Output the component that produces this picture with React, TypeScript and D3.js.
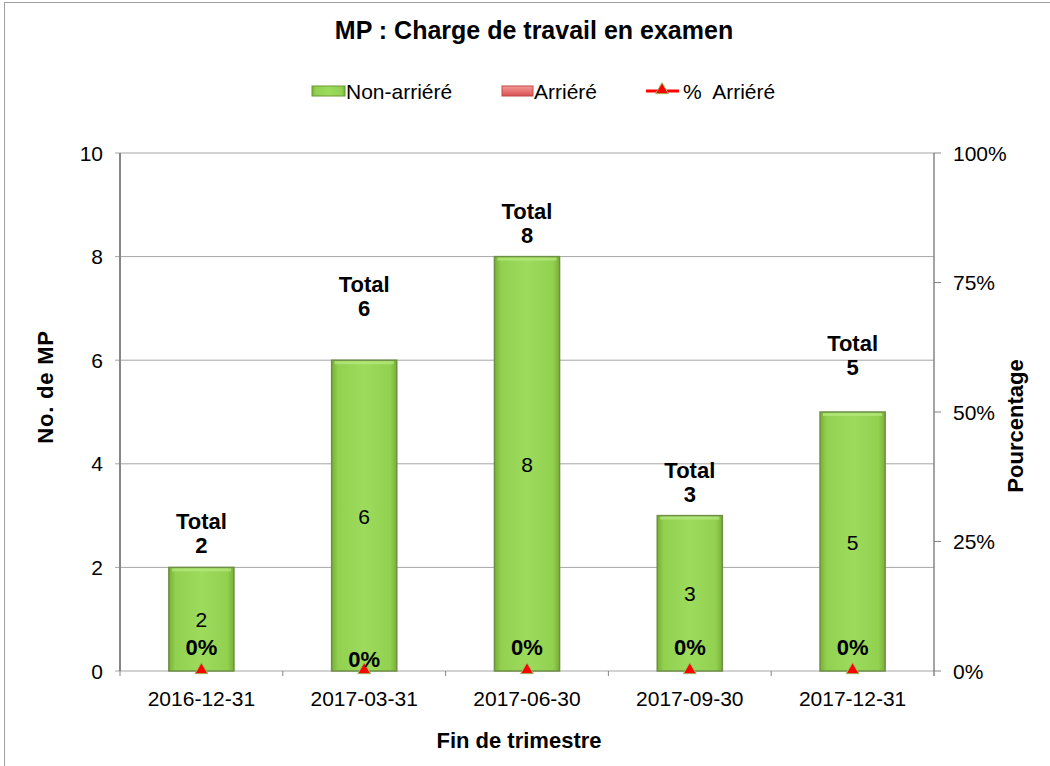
import React from "react";
import * as d3 from "d3";

const categories = ["2016-12-31", "2017-03-31", "2017-06-30", "2017-09-30", "2017-12-31"];
const nonArriere = [2, 6, 8, 3, 5];
const arriere = [0, 0, 0, 0, 0];
const pctArriere = [0, 0, 0, 0, 0];
const leftTicks = [0, 2, 4, 6, 8, 10];
const rightTicks = [0, 0.25, 0.5, 0.75, 1];

const W = 1050, H = 766;
const M = { left: 120, right: 934, top: 153, bottom: 671 };
const FONT = "'Liberation Sans', Arial, sans-serif";
// extra lift (px) of the "Total" labels above each bar, as placed in the original
const totalLift = [0, 30, 0, 0, 23];
// "0%" label offset above the marker
const pctLift = [16, 4, 16, 16, 16];

export default function App() {
  const x = d3.scaleBand<string>().domain(categories).range([M.left, M.right]).paddingInner(0.6).paddingOuter(0.3);
  const xb = d3.scaleBand<string>().domain(categories).range([M.left, M.right]);
  const y = d3.scaleLinear().domain([0, 10]).range([M.bottom, M.top]);
  const y2 = d3.scaleLinear().domain([0, 1]).range([M.bottom, M.top]);
  const bw = x.bandwidth();
  const pctFmt = d3.format(".0%");
  const tri = d3.symbol().type(d3.symbolTriangle).size(70);

  return (
    <svg width={W} height={H} style={{ display: "block", position: "absolute", left: 0, top: 0, fontFamily: FONT }}>
      <defs>
        <linearGradient id="gGreen" x1="0" x2="1" y1="0" y2="0">
          <stop offset="0" stopColor="#78b035" />
          <stop offset="0.1" stopColor="#92d050" />
          <stop offset="0.5" stopColor="#9cdb5c" />
          <stop offset="0.9" stopColor="#92d050" />
          <stop offset="1" stopColor="#78b035" />
        </linearGradient>
        <linearGradient id="gRed" x1="0" x2="0" y1="0" y2="1">
          <stop offset="0" stopColor="#f49a9a" />
          <stop offset="1" stopColor="#d95050" />
        </linearGradient>
      </defs>
      <rect x={0} y={0} width={W} height={H} fill="#fff" />
      <rect x={4.5} y={2.5} width={W + 10} height={H + 10} fill="none" stroke="#a0a0a0" strokeWidth={1} />

      <text x={534} y={39} textAnchor="middle" fontSize={25} fontWeight="bold">MP : Charge de travail en examen</text>

      {/* legend */}
      <g fontSize={21}>
        <rect x={312} y={86} width={33} height={10} fill="url(#gGreen)" stroke="#6c9a34" strokeWidth={1} />
        <text x={346} y={99}>Non-arriéré</text>
        <rect x={502} y={86} width={31} height={10} fill="url(#gRed)" stroke="#c04848" strokeWidth={1} />
        <text x={534} y={99}>Arriéré</text>
        <line x1={646} x2={679} y1={91} y2={91} stroke="#ff0000" strokeWidth={3} />
        <path d={tri()!} transform="translate(662,90)" fill="#ff0000" stroke="#9bbb59" strokeWidth={1} />
        <text x={683} y={99} xmlSpace="preserve">%  Arriéré</text>
      </g>

      {/* gridlines */}
      {leftTicks.map((t) => (
        <line key={"g" + t} x1={M.left - 5} x2={M.right} y1={y(t)} y2={y(t)} stroke="#a6a6a6" strokeWidth={1} />
      ))}
      {/* axes */}
      <line x1={M.left} x2={M.left} y1={M.top} y2={M.bottom} stroke="#868686" strokeWidth={2} />
      <line x1={M.right} x2={M.right} y1={M.top} y2={M.bottom + 5} stroke="#868686" strokeWidth={1.5} />
      {rightTicks.map((t) => (
        <line key={"rt" + t} x1={M.right} x2={M.right + 7} y1={y2(t)} y2={y2(t)} stroke="#868686" strokeWidth={1} />
      ))}
      {categories.map((c) => (
        <line key={"bt" + c} x1={xb(c)!} x2={xb(c)!} y1={M.bottom} y2={M.bottom + 5} stroke="#868686" strokeWidth={1} />
      ))}

      <g fontSize={21} fill="#000">
        {leftTicks.map((t) => (
          <text key={"lt" + t} x={103} y={y(t) + 7.5} textAnchor="end">{t}</text>
        ))}
        {rightTicks.map((t) => (
          <text key={"rtl" + t} x={953} y={y2(t) + 7.5}>{pctFmt(t)}</text>
        ))}
        {categories.map((c) => (
          <text key={"xl" + c} x={x(c)! + bw / 2} y={706} textAnchor="middle">{c}</text>
        ))}
      </g>

      {/* bars */}
      {categories.map((c, i) => {
        const top = y(nonArriere[i] + arriere[i]);
        const h = y(0) - y(nonArriere[i]);
        const cx = x(c)! + bw / 2;
        return (
          <g key={"b" + c}>
            <rect x={x(c)!} y={y(nonArriere[i])} width={bw} height={h} fill="url(#gGreen)" stroke="#6e8f45" strokeWidth={1.5} />
            <rect x={x(c)! + 3} y={y(nonArriere[i]) + 1} width={bw - 6} height={3} fill="#b8ea80" opacity={0.7} />
            <text x={cx} y={y(nonArriere[i] / 2) + 8} textAnchor="middle" fontSize={21}>{nonArriere[i]}</text>
            <text x={cx} y={top - 38 - totalLift[i]} textAnchor="middle" fontSize={22} fontWeight="bold">Total</text>
            <text x={cx} y={top - 14 - totalLift[i]} textAnchor="middle" fontSize={22} fontWeight="bold">{nonArriere[i] + arriere[i]}</text>
          </g>
        );
      })}

      {/* % markers */}
      {categories.map((c, i) => (
        <g key={"p" + c}>
          <path d={tri()!} transform={`translate(${x(c)! + bw / 2},${y2(pctArriere[i]) - 1})`} fill="#ff0000" stroke="#9bbb59" strokeWidth={1} />
          <text x={x(c)! + bw / 2} y={y2(pctArriere[i]) - pctLift[i]} textAnchor="middle" fontSize={22} fontWeight="bold">{pctFmt(pctArriere[i])}</text>
        </g>
      ))}

      {/* axis titles */}
      <text x={519} y={748} textAnchor="middle" fontSize={22} fontWeight="bold">Fin de trimestre</text>
      <text transform="translate(53,387) rotate(-90)" textAnchor="middle" fontSize={22} fontWeight="bold" letterSpacing={0.8}>No. de MP</text>
      <text transform="translate(1023,426) rotate(-90)" textAnchor="middle" fontSize={22} fontWeight="bold">Pourcentage</text>
    </svg>
  );
}
